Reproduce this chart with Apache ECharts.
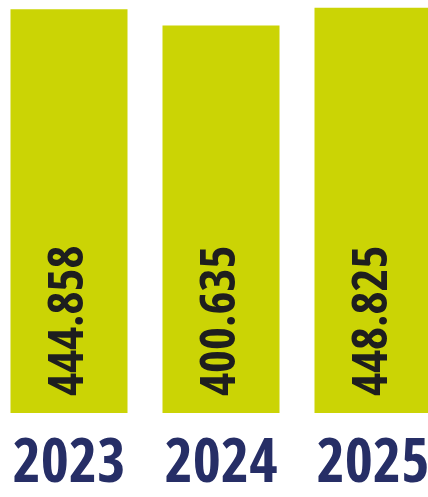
<!DOCTYPE html>
<html>
<head>
<meta charset="utf-8">
<script src="https://cdn.jsdelivr.net/npm/echarts@6/dist/echarts.min.js"></script>
<style>html,body{margin:0;padding:0;background:#fff;overflow:hidden;}#c{position:absolute;left:-7px;top:0;width:456px;height:497px;}</style>
</head>
<body>
<div id="c"></div>
<script>
const years = ['2023', '2024', '2025'];
const values = [444.858, 400.635, 448.825];
const valueLabels = ['444.858', '400.635', '448.825'];

const FONT = '"Open Sans", "DejaVu Sans Condensed", sans-serif';
const chart = echarts.init(document.getElementById('c'), null, {renderer: 'canvas'});
chart.setOption({
  animation: false,
  grid: {left: 0, right: 0, top: 0, bottom: 84, containLabel: false},
  xAxis: {
    type: 'category',
    data: years,
    axisLine: {show: false},
    axisTick: {show: false},
    axisLabel: {
      interval: 0,
      hideOverlap: false,
      margin: 22,
      color: '#262e66',
      fontFamily: FONT,
      fontWeight: 'bold condensed',
      fontSize: 60
    }
  },
  yAxis: {
    type: 'value',
    min: -654,
    max: 470,
    startValue: -654,
    show: false,
    splitLine: {show: false}
  },
  series: [{
    type: 'bar',
    data: values,
    barWidth: 117,
    itemStyle: {color: '#cbd405'},
    label: {
      show: true,
      position: 'insideBottom',
      rotate: 90,
      align: 'left',
      verticalAlign: 'middle',
      distance: 17,
      color: '#1e1e1e',
      fontFamily: FONT,
      fontWeight: 'bold condensed',
      fontSize: 49,
      formatter: p => valueLabels[p.dataIndex]
    }
  }]
});
</script>
</body>
</html>
